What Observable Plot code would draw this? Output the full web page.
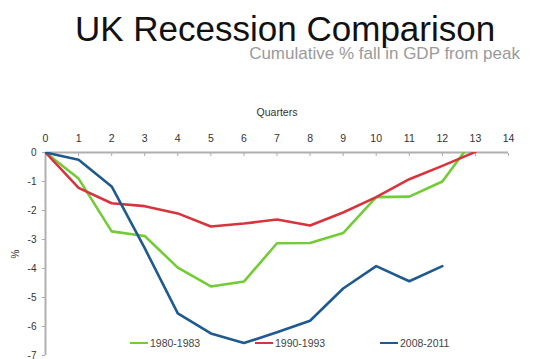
<!DOCTYPE html>
<html>
<head>
<meta charset="utf-8">
<script src="https://cdn.jsdelivr.net/npm/d3@7"></script>
<script src="https://cdn.jsdelivr.net/npm/@observablehq/plot@0.6"></script>
<style>
  html, body { margin: 0; padding: 0; background: #fff; overflow: hidden; }
  body { width: 536px; height: 359px; position: relative; font-family: "Liberation Sans", Arial, sans-serif; }
  #title { position: absolute; left: 75px; top: 14px; font-size: 35px; line-height: 30px; color: #111; white-space: nowrap; }
  #subtitle { position: absolute; right: 16px; top: 45px; font-size: 17px; line-height: 1; color: #9a9a9a; white-space: nowrap; }
  #chart { position: absolute; left: 0; top: 60px; }
  #legend { position: absolute; left: 0; top: 337px; width: 536px; height: 14px; font-size: 10.5px; color: #444; }
  .item { position: absolute; top: 0; display: flex; align-items: center; height: 12px; }
  .sw { width: 18px; height: 2.5px; margin-right: 2px; }
</style>
</head>
<body>
<div id="title">UK Recession Comparison</div>
<div id="subtitle">Cumulative % fall in GDP from peak</div>
<div id="chart"></div>
<div id="legend"></div>
<script>
// ---- data ----
const seriesNames = ["1980-1983", "1990-1993", "2008-2011"];
const seriesColors = ["#72cc36", "#d8343d", "#1f5a8f"];
const quarters = [0, 1, 2, 3, 4, 5, 6, 7, 8, 9, 10, 11, 12, 13];
const gdp1980 = [0, -0.9, -2.72, -2.88, -3.97, -4.62, -4.45, -3.13, -3.12, -2.78, -1.54, -1.52, -1.0, 0.54];
const gdp1990 = [0, -1.22, -1.75, -1.85, -2.1, -2.55, -2.45, -2.31, -2.52, -2.07, -1.54, -0.92, -0.46, 0.02];
const gdp2008 = [0, -0.25, -1.17, -3.3, -5.55, -6.24, -6.57, -6.2, -5.8, -4.69, -3.92, -4.44, -3.92];
const xTicks = [0, 1, 2, 3, 4, 5, 6, 7, 8, 9, 10, 11, 12, 13, 14];
const yTicks = [0, -1, -2, -3, -4, -5, -6, -7];

const seriesValues = [gdp1980, gdp1990, gdp2008];
const rows = [];
seriesValues.forEach((vals, i) => {
  vals.forEach((v, j) => rows.push({series: seriesNames[i], q: quarters[j], v}));
});

const plot = Plot.plot({
  width: 536,
  height: 299,
  marginTop: 92,
  marginLeft: 45,
  marginRight: 28,
  marginBottom: 4,
  style: {fontFamily: "Liberation Sans, Arial, sans-serif", fontSize: "10.5px", color: "#333", background: "transparent"},
  x: {domain: [0, 14]},
  y: {domain: [-7, 0]},
  color: {domain: seriesNames, range: seriesColors},
  marks: [
    Plot.axisX({anchor: "top", ticks: xTicks, tickFormat: d => String(d), tickSize: -3, tickPadding: 14, stroke: "#aaa",
      label: "Quarters", labelAnchor: "center", labelArrow: "none", labelOffset: 44, fontSize: 10.5}),
    Plot.axisY({anchor: "left", ticks: yTicks, tickFormat: d => String(d), tickSize: 3, tickPadding: 6, stroke: "#aaa",
      label: "%", labelAnchor: "center", labelArrow: "none", labelOffset: 34, fontSize: 10}),
    Plot.ruleX([0], {stroke: "#b0b0b0", strokeWidth: 2}),
    Plot.ruleY([0], {stroke: "#b0b0b0", strokeWidth: 2}),
    Plot.line(rows, {x: "q", y: "v", z: "series", stroke: "series", strokeWidth: 2.6, clip: true, strokeLinejoin: "round"})
  ]
});
document.getElementById("chart").appendChild(plot);

// legend
const legend = document.getElementById("legend");
const legendLefts = [130, 255, 380];
seriesNames.forEach((name, i) => {
  const item = document.createElement("div");
  item.className = "item";
  item.style.left = legendLefts[i] + "px";
  const sw = document.createElement("span");
  sw.className = "sw";
  sw.style.background = seriesColors[i];
  const t = document.createElement("span");
  t.textContent = name;
  item.appendChild(sw);
  item.appendChild(t);
  legend.appendChild(item);
});
</script>
</body>
</html>
